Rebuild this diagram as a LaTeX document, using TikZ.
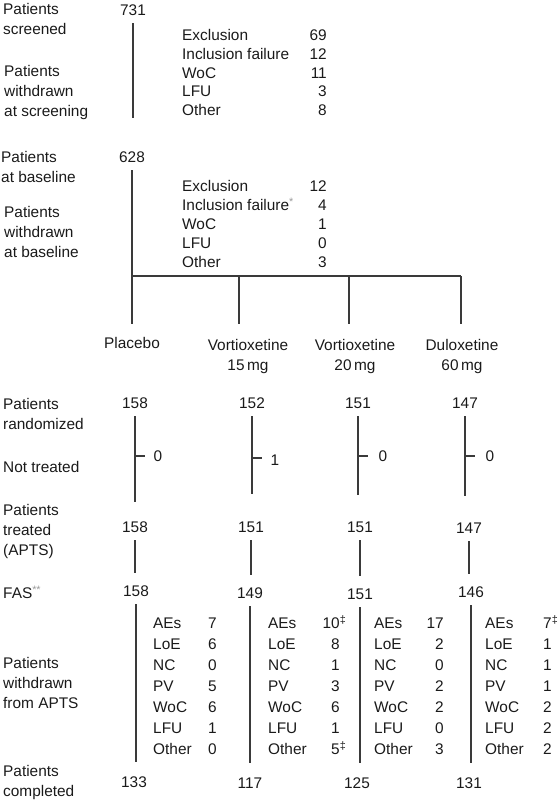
\documentclass[tikz,border=0pt]{standalone}
\usepackage{fontspec}
\setmainfont{Liberation Sans}
\definecolor{ink}{HTML}{1A1A1A}
\definecolor{rule}{HTML}{3A3A3A}
\definecolor{note}{HTML}{9A9A9A}

\begin{document}
\begin{tikzpicture}[x=1pt,y=-1pt,
  font=\fontsize{15.4}{20}\selectfont, text=ink,
  lbl/.style={anchor=north west, align=left, inner sep=0pt},
  arm/.style={anchor=north, align=center, inner sep=0pt},
  num/.style={inner xsep=1pt, inner ysep=7.5pt, text height=10.8pt, text depth=0pt},
  side/.style={inner sep=0pt, text height=10.8pt, text depth=0pt},
  item/.style={side, anchor=west},
  cnt/.style={side, anchor=east},
  flow/.style={draw=rule, line width=1.1pt}]
\useasboundingbox (0,0) rectangle (557,800);

% screening
\node[lbl] (lScr) at (3,3.5) {Patients\\screened};
\node[num] (n731) at (133,10) {731};
\node[lbl] (lWdS) at (4,65.5) {Patients\\withdrawn\\at screening};
\coordinate (scrEnd) at (133,118);
\draw[flow] (n731.south) -- (scrEnd);

\foreach \lab/\val [count=\i] in {Exclusion/69, Inclusion failure/12, WoC/11, LFU/3, Other/8}{
  \node[item] (s\i) at (182,{35+18.8*(\i-1)}) {\lab};
  \node[cnt] (sv\i) at (327,{35+18.8*(\i-1)}) {\val};
}

% baseline
\node[lbl] (lBas) at (1,151.5) {Patients\\at baseline};
\node[num] (n628) at (132,157) {628};
\node[lbl] (lWdB) at (4,206.5) {Patients\\withdrawn\\at baseline};

\foreach \lab/\val [count=\i] in {Exclusion/12, {Inclusion failure\textsuperscript{\textcolor{note}{*}}}/4, WoC/1, LFU/0, Other/3}{
  \node[item] (b\i) at (182,{186+19*(\i-1)}) {\lab};
  \node[cnt] (bv\i) at (327,{186+19*(\i-1)}) {\val};
}

% split into arms
\coordinate (split) at (132,276);
\coordinate (s2) at (239,276);
\coordinate (s3) at (349,276);
\coordinate (splitR) at (461,276);

\node[arm] (aPla) at (132,337.5) {Placebo};
\node[arm] (aV15) at (248,339.5) {Vortioxetine\\15\,mg};
\node[arm] (aV20) at (355,339.5) {Vortioxetine\\20\,mg};
\node[arm] (aDul) at (462,339.5) {Duloxetine\\60\,mg};

\draw[flow] (n628.south) -- (split) -- (splitR);
\draw[flow, shorten >=14pt] (split) -- (split |- aPla.north);
\draw[flow, shorten >=16pt] (s2) -- (s2 |- aV15.north);
\draw[flow, shorten >=16pt] (s3) -- (s3 |- aV20.north);
\draw[flow, shorten >=16pt] (splitR) -- (splitR |- aDul.north);

% randomized
\node[lbl] (lRan) at (3,398.5) {Patients\\randomized};
\node[item] (lNot) at (3,467) {Not treated};
\node[num] (r1) at (135,403) {158};
\node[num] (r2) at (252,403) {152};
\node[num] (r3) at (358,403) {151};
\node[num] (r4) at (465,403) {147};

\node[side] (z1) at (158,456) {0};
\node[side] (z2) at (275,460) {1};
\node[side] (z3) at (383,456) {0};
\node[side] (z4) at (490,456) {0};

% treated
\node[lbl] (lTrt) at (3,504.5) {Patients\\treated\\(APTS)};
\node[num] (t1) at (135,527) {158};
\node[num] (t2) at (251,527) {151};
\node[num] (t3) at (360,527) {151};
\node[num] (t4) at (469,528) {147};

\draw[flow, shorten >=12pt] (r1.south) -- (r1.south |- t1.north);
\draw[flow, shorten >=20pt] (r2.south) -- (r2.south |- t2.north);
\draw[flow, shorten >=19pt] (r3.south) -- (r3.south |- t3.north);
\draw[flow, shorten >=19pt] (r4.south) -- (r4.south |- t4.north);

\draw[flow] (r1 |- z1) -- ++(10,0);
\draw[flow] (r2 |- 0,458) -- ++(10,0);
\draw[flow] (r3 |- z3) -- ++(10,0);
\draw[flow] (r4 |- z4) -- ++(10,0);

% FAS
\node[item] (lFas) at (3,593) {FAS\textsuperscript{\textcolor{note}{**}}};
\node[num] (f1) at (136,591) {158};
\node[num] (f2) at (250,593) {149};
\node[num] (f3) at (360,594) {151};
\node[num] (f4) at (471,592) {146};

\draw[flow, shorten >=5pt] (t1.south) -- (t1.south |- f1.north);
\draw[flow, shorten >=5pt] (t2.south) -- (t2.south |- f2.north);
\draw[flow, shorten >=5pt] (t3.south) -- (t3.south |- f3.north);
\draw[flow, shorten >=5pt] (t4.south) -- (t4.south |- f4.north);

% withdrawn from APTS
\node[lbl] (lWdA) at (3,657.5) {Patients\\withdrawn\\from APTS};

\foreach \lab [count=\i] in {AEs,LoE,NC,PV,WoC,LFU,Other}{
  \node[item] (wa\i) at (153,{623+21*(\i-1)}) {\lab};
  \node[item] (wb\i) at (268,{623+21*(\i-1)}) {\lab};
  \node[item] (wc\i) at (374,{623+21*(\i-1)}) {\lab};
  \node[item] (wd\i) at (485,{623+21*(\i-1)}) {\lab};
}
\foreach \val [count=\i] in {7,6,0,5,6,1,0}
  \node[cnt] (va\i) at (217,{623+21*(\i-1)}) {\val};
\foreach \val [count=\i] in {10\rlap{\textsuperscript{‡}},8,1,3,6,1,5\rlap{\textsuperscript{‡}}}
  \node[cnt] (vb\i) at (340,{623+21*(\i-1)}) {\val};
\foreach \val [count=\i] in {17,2,0,2,2,0,3}
  \node[cnt] (vc\i) at (444,{623+21*(\i-1)}) {\val};
\foreach \val [count=\i] in {7\textsuperscript{‡},1,1,1,2,2,2}
  \node[item] (vd\i) at (543,{623+21*(\i-1)}) {\val};

% completed
\node[lbl] (lCmp) at (3,765.5) {Patients\\completed};
\node[num] (c1) at (134,782) {133};
\node[num] (c2) at (250,783) {117};
\node[num] (c3) at (357,783) {125};
\node[num] (c4) at (469,783) {131};

\draw[flow, shorten >=7pt] (f1.south) -- (f1.south |- c1.north);
\draw[flow, shorten >=7pt] (f2.south) -- (f2.south |- c2.north);
\draw[flow, shorten >=7pt] (f3.south) -- (f3.south |- c3.north);
\draw[flow, shorten >=7pt] (f4.south) -- (f4.south |- c4.north);

\end{tikzpicture}
\end{document}
